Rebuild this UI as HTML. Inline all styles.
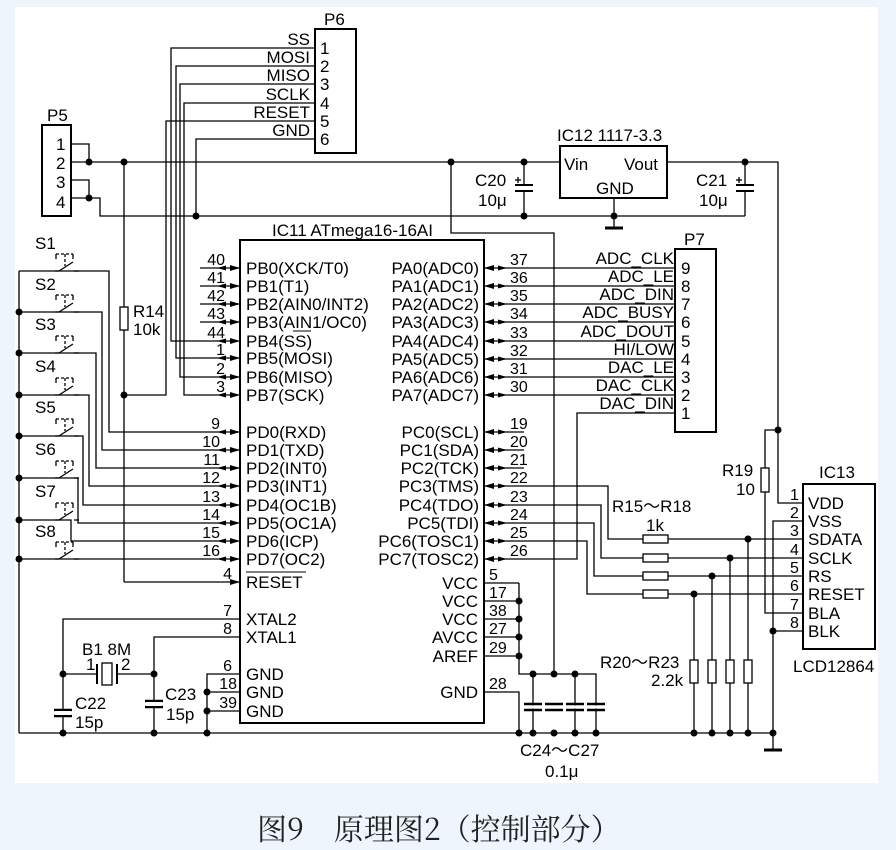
<!DOCTYPE html>
<html><head><meta charset="utf-8"><style>
html,body{margin:0;padding:0;background:#eef5fc;}
svg{display:block}
text{font-family:"Liberation Sans",sans-serif;fill:#000;}
</style></head><body>
<svg width="896" height="850" viewBox="0 0 896 850" xmlns="http://www.w3.org/2000/svg">
<defs>
<g id="da"><polygon points="-23,0 -14,-2.5 -14,2.5" fill="#000"/><polygon points="0,0 -10,-3 -10,3" fill="#000"/></g>
<g id="dt"><circle r="3.5" fill="#000"/></g>
<g id="swi" stroke="#000" fill="none" stroke-width="1.3">
<line x1="0" y1="0" x2="40" y2="0"/><line x1="40" y1="0" x2="54" y2="-9"/><line x1="55" y1="0" x2="60" y2="0"/>
<line x1="37" y1="-17" x2="54" y2="-17" stroke-dasharray="3,2"/><line x1="37" y1="-17" x2="37" y2="-12"/><line x1="54" y1="-17" x2="54" y2="-12"/><line x1="46" y1="-17" x2="46" y2="-5" stroke-dasharray="3,2"/>
</g>
</defs>
<rect x="15" y="7" width="863" height="776" fill="#fff"/>
<g stroke="#000" stroke-width="1.3" fill="none">
<rect x="315" y="29" width="41" height="124" stroke-width="2"/>
<polyline points="315,48 171,48 171,341 240,341"/>
<polyline points="315,66 176,66 176,358 240,358"/>
<polyline points="315,84 180,84 180,377 240,377"/>
<polyline points="315,103 184,103 184,395 240,395"/>
<polyline points="315,121 166,121 166,395 124,395"/>
<polyline points="315,139 196,139 196,216"/>
<rect x="42" y="125" width="29" height="91" stroke-width="2"/>
<polyline points="71,144 89,144 89,162"/>
<line x1="71" y1="162" x2="560" y2="162"/>
<polyline points="71,180 89,180 89,198"/>
<polyline points="71,198 100,198 100,216 745,216"/>
<polyline points="451,162 451,233 554,233 554,674"/>
<line x1="524" y1="162" x2="524" y2="185"/><line x1="515" y1="185" x2="533" y2="185" stroke-width="2"/><line x1="515" y1="191" x2="533" y2="191" stroke-width="2"/><line x1="524" y1="191" x2="524" y2="216"/>
<line x1="518" y1="177" x2="518" y2="183"/><line x1="515" y1="180" x2="521" y2="180"/>
<rect x="560" y="146" width="107" height="52" stroke-width="2"/>
<line x1="614" y1="198" x2="614" y2="228"/><line x1="605" y1="228" x2="623" y2="228" stroke-width="3"/>
<polyline points="667,162 778,162 778,503 803,503"/>
<line x1="745" y1="162" x2="745" y2="185"/><line x1="736" y1="185" x2="754" y2="185" stroke-width="2"/><line x1="736" y1="191" x2="754" y2="191" stroke-width="2"/><line x1="745" y1="191" x2="745" y2="216"/>
<line x1="739" y1="177" x2="739" y2="183"/><line x1="736" y1="180" x2="742" y2="180"/>
<polyline points="778,430 765,430 765,613 803,613"/>
<rect x="761" y="468" width="8" height="24" fill="#fff"/>
<line x1="124" y1="162" x2="124" y2="582"/><line x1="124" y1="582" x2="240" y2="582"/>
<rect x="120" y="307" width="8" height="23" fill="#fff"/>
<polyline points="19,733 19,271"/>
<polyline points="55,271 109,271 109,432 240,432"/>
<polyline points="55,312 102,312 102,450 240,450"/>
<polyline points="55,353 96,353 96,468 240,468"/>
<polyline points="55,395 89,395 89,486 240,486"/>
<polyline points="55,436 83,436 83,505 240,505"/>
<polyline points="55,478 78,478 78,523 240,523"/>
<polyline points="55,520 71,520 71,541 240,541"/>
<polyline points="55,559 240,559"/>
<rect x="240" y="240" width="244" height="483" stroke-width="2"/>
<line x1="200" y1="268" x2="240" y2="268"/><line x1="200" y1="286" x2="240" y2="286"/><line x1="200" y1="304" x2="240" y2="304"/><line x1="200" y1="322" x2="240" y2="322"/>
<polyline points="240,619 63,619 63,733"/>
<polyline points="240,637 154,637 154,733"/>
<line x1="63" y1="674" x2="97" y2="674"/><line x1="117" y1="674" x2="154" y2="674"/>
<line x1="97" y1="664" x2="97" y2="684" stroke-width="2"/><line x1="117" y1="664" x2="117" y2="684" stroke-width="2"/>
<rect x="102" y="663" width="10" height="22"/>
<line x1="54" y1="710" x2="72" y2="710" stroke-width="2.5"/><line x1="54" y1="716" x2="72" y2="716" stroke-width="2.5"/>
<rect x="55" y="711" width="16" height="4" fill="#fff" stroke="none"/>
<line x1="145" y1="701" x2="163" y2="701" stroke-width="2.5"/><line x1="145" y1="707" x2="163" y2="707" stroke-width="2.5"/>
<rect x="146" y="702" width="16" height="4" fill="#fff" stroke="none"/>
<polyline points="240,674 207,674 207,733"/><line x1="207" y1="692" x2="240" y2="692"/><line x1="207" y1="711" x2="240" y2="711"/>
<line x1="19" y1="733" x2="773" y2="733"/>
<line x1="484" y1="268" x2="675" y2="268"/><line x1="484" y1="286" x2="675" y2="286"/><line x1="484" y1="304" x2="675" y2="304"/><line x1="484" y1="322" x2="675" y2="322"/><line x1="484" y1="341" x2="675" y2="341"/><line x1="484" y1="359" x2="675" y2="359"/><line x1="484" y1="377" x2="675" y2="377"/><line x1="484" y1="395" x2="675" y2="395"/>
<polyline points="675,413 577,413 577,559 484,559"/>
<rect x="675" y="249" width="41" height="183" stroke-width="2"/>
<line x1="484" y1="432" x2="524" y2="432"/><line x1="484" y1="450" x2="524" y2="450"/><line x1="484" y1="468" x2="524" y2="468"/>
<polyline points="484,486 608,486 608,539 803,539"/>
<polyline points="484,505 601,505 601,558 803,558"/>
<polyline points="484,523 594,523 594,576 803,576"/>
<polyline points="484,541 587,541 587,594 803,594"/>
<rect x="643" y="535" width="25" height="8" fill="#fff"/><rect x="643" y="554" width="25" height="8" fill="#fff"/><rect x="643" y="572" width="25" height="8" fill="#fff"/><rect x="643" y="590" width="25" height="8" fill="#fff"/>
<line x1="748" y1="539" x2="748" y2="733"/><line x1="730" y1="558" x2="730" y2="733"/><line x1="712" y1="576" x2="712" y2="733"/><line x1="694" y1="594" x2="694" y2="733"/>
<rect x="690" y="660" width="8" height="23" fill="#fff"/><rect x="708" y="660" width="8" height="23" fill="#fff"/><rect x="726" y="660" width="8" height="23" fill="#fff"/><rect x="744" y="660" width="8" height="23" fill="#fff"/>
<rect x="803" y="484" width="72" height="165" stroke-width="2"/>
<polyline points="803,521 773,521 773,750"/><line x1="764" y1="750" x2="782" y2="750" stroke-width="3"/>
<line x1="773" y1="631" x2="803" y2="631"/>
<line x1="484" y1="583" x2="519" y2="583"/><line x1="484" y1="601" x2="519" y2="601"/><line x1="484" y1="619" x2="519" y2="619"/><line x1="484" y1="637" x2="519" y2="637"/><line x1="484" y1="656" x2="519" y2="656"/>
<polyline points="519,583 519,674 596,674 596,733"/>
<polyline points="484,692 519,692 519,733"/>
<line x1="533" y1="674" x2="533" y2="733"/><line x1="575" y1="674" x2="575" y2="733"/>
</g>
<g stroke="#000" stroke-width="2.5">
<line x1="524" y1="704" x2="542" y2="704"/><line x1="524" y1="710" x2="542" y2="710"/>
<line x1="545" y1="704" x2="563" y2="704"/><line x1="545" y1="710" x2="563" y2="710"/>
<line x1="566" y1="704" x2="584" y2="704"/><line x1="566" y1="710" x2="584" y2="710"/>
<line x1="587" y1="704" x2="605" y2="704"/><line x1="587" y1="710" x2="605" y2="710"/>
</g>
<g fill="#fff"><rect x="525" y="705.5" width="16" height="3"/><rect x="546" y="705.5" width="16" height="3"/><rect x="567" y="705.5" width="16" height="3"/><rect x="588" y="705.5" width="16" height="3"/></g>
<use href="#swi" x="19" y="271"/><use href="#swi" x="19" y="312"/><use href="#swi" x="19" y="353"/><use href="#swi" x="19" y="395"/><use href="#swi" x="19" y="436"/><use href="#swi" x="19" y="478"/><use href="#swi" x="19" y="520"/><use href="#swi" x="19" y="559"/>
<g>
<use href="#da" x="240" y="268"/><use href="#da" x="240" y="286"/><use href="#da" x="240" y="304"/><use href="#da" x="240" y="322"/><use href="#da" x="240" y="341"/><use href="#da" x="240" y="358"/><use href="#da" x="240" y="377"/><use href="#da" x="240" y="395"/>
<use href="#da" x="240" y="432"/><use href="#da" x="240" y="450"/><use href="#da" x="240" y="468"/><use href="#da" x="240" y="486"/><use href="#da" x="240" y="505"/><use href="#da" x="240" y="523"/><use href="#da" x="240" y="541"/><use href="#da" x="240" y="559"/>
<polygon points="240,582 230,579 230,585" fill="#000"/>
</g>
<g transform="translate(968,0) scale(-1,1)">
<use href="#da" x="484" y="268"/><use href="#da" x="484" y="286"/><use href="#da" x="484" y="304"/><use href="#da" x="484" y="322"/><use href="#da" x="484" y="341"/><use href="#da" x="484" y="359"/><use href="#da" x="484" y="377"/><use href="#da" x="484" y="395"/>
<use href="#da" x="484" y="432"/><use href="#da" x="484" y="450"/><use href="#da" x="484" y="468"/><use href="#da" x="484" y="486"/><use href="#da" x="484" y="505"/><use href="#da" x="484" y="523"/><use href="#da" x="484" y="541"/><use href="#da" x="484" y="559"/>
</g>
<g>
<use href="#dt" x="89" y="162"/><use href="#dt" x="124" y="162"/><use href="#dt" x="89" y="198"/><use href="#dt" x="196" y="216"/><use href="#dt" x="124" y="395"/>
<use href="#dt" x="451" y="162"/><use href="#dt" x="524" y="162"/><use href="#dt" x="524" y="216"/><use href="#dt" x="614" y="216"/><use href="#dt" x="745" y="162"/><use href="#dt" x="778" y="430"/>
<use href="#dt" x="19" y="312"/><use href="#dt" x="19" y="353"/><use href="#dt" x="19" y="395"/><use href="#dt" x="19" y="436"/><use href="#dt" x="19" y="478"/><use href="#dt" x="19" y="520"/><use href="#dt" x="19" y="559"/>
<use href="#dt" x="63" y="674"/><use href="#dt" x="154" y="674"/><use href="#dt" x="63" y="733"/><use href="#dt" x="154" y="733"/><use href="#dt" x="207" y="692"/><use href="#dt" x="207" y="711"/><use href="#dt" x="207" y="733"/>
<use href="#dt" x="519" y="601"/><use href="#dt" x="519" y="619"/><use href="#dt" x="519" y="637"/><use href="#dt" x="519" y="656"/>
<use href="#dt" x="533" y="674"/><use href="#dt" x="554" y="674"/><use href="#dt" x="575" y="674"/>
<use href="#dt" x="519" y="733"/><use href="#dt" x="533" y="733"/><use href="#dt" x="554" y="733"/><use href="#dt" x="575" y="733"/><use href="#dt" x="596" y="733"/>
<use href="#dt" x="694" y="733"/><use href="#dt" x="712" y="733"/><use href="#dt" x="730" y="733"/><use href="#dt" x="748" y="733"/><use href="#dt" x="773" y="733"/>
<use href="#dt" x="748" y="539"/><use href="#dt" x="730" y="558"/><use href="#dt" x="712" y="576"/><use href="#dt" x="694" y="594"/><use href="#dt" x="773" y="631"/>
</g>
<g font-size="17">
<text x="324" y="25">P6</text>
<g text-anchor="end"><text x="310" y="45">SS</text><text x="310" y="63">MOSI</text><text x="310" y="81">MISO</text><text x="310" y="100">SCLK</text><text x="310" y="118">RESET</text><text x="310" y="136">GND</text></g>
<text x="320" y="54">1</text><text x="320" y="72">2</text><text x="320" y="90">3</text><text x="320" y="109">4</text><text x="320" y="127">5</text><text x="320" y="145">6</text>
<text x="47" y="121">P5</text>
<text x="56" y="150">1</text><text x="56" y="169">2</text><text x="56" y="188">3</text><text x="56" y="208">4</text>
<text x="133" y="317">R14</text><text x="133" y="335">10k</text>
<text x="35" y="249">S1</text><text x="35" y="290">S2</text><text x="35" y="330">S3</text><text x="35" y="372">S4</text><text x="35" y="413">S5</text><text x="35" y="455">S6</text><text x="35" y="497">S7</text><text x="35" y="537">S8</text>
<text x="272" y="236">IC11 ATmega16-16AI</text>
<g><text x="246" y="274">PB0(XCK/T0)</text><text x="246" y="292">PB1(T1)</text><text x="246" y="310">PB2(AIN0/INT2)</text><text x="246" y="328">PB3(AIN1/OC0)</text><text x="246" y="347">PB4(SS)</text><text x="246" y="364">PB5(MOSI)</text><text x="246" y="383">PB6(MISO)</text><text x="246" y="401">PB7(SCK)</text>
<text x="246" y="438">PD0(RXD)</text><text x="246" y="456">PD1(TXD)</text><text x="246" y="474">PD2(INT0)</text><text x="246" y="492">PD3(INT1)</text><text x="246" y="511">PD4(OC1B)</text><text x="246" y="529">PD5(OC1A)</text><text x="246" y="547">PD6(ICP)</text><text x="246" y="565">PD7(OC2)</text>
<text x="246" y="588">RESET</text><text x="246" y="625">XTAL2</text><text x="246" y="643">XTAL1</text><text x="246" y="680">GND</text><text x="246" y="698">GND</text><text x="246" y="717">GND</text></g>
<line x1="293" y1="331" x2="311" y2="331" stroke="#000"/><line x1="246" y1="572" x2="306" y2="572" stroke="#000"/>
<g text-anchor="end"><text x="479" y="274">PA0(ADC0)</text><text x="479" y="292">PA1(ADC1)</text><text x="479" y="310">PA2(ADC2)</text><text x="479" y="328">PA3(ADC3)</text><text x="479" y="347">PA4(ADC4)</text><text x="479" y="365">PA5(ADC5)</text><text x="479" y="383">PA6(ADC6)</text><text x="479" y="401">PA7(ADC7)</text>
<text x="479" y="438">PC0(SCL)</text><text x="479" y="456">PC1(SDA)</text><text x="479" y="474">PC2(TCK)</text><text x="479" y="492">PC3(TMS)</text><text x="479" y="511">PC4(TDO)</text><text x="479" y="529">PC5(TDI)</text><text x="479" y="547">PC6(TOSC1)</text><text x="479" y="565">PC7(TOSC2)</text>
<text x="478" y="589">VCC</text><text x="478" y="607">VCC</text><text x="478" y="625">VCC</text><text x="478" y="643">AVCC</text><text x="478" y="662">AREF</text><text x="478" y="698">GND</text>
<text x="674" y="264">ADC_CLK</text><text x="674" y="282">ADC_LE</text><text x="674" y="300">ADC_DIN</text><text x="674" y="318">ADC_BUSY</text><text x="674" y="337">ADC_DOUT</text><text x="674" y="355">HI/LOW</text><text x="674" y="373">DAC_LE</text><text x="674" y="391">DAC_CLK</text><text x="674" y="409">DAC_DIN</text></g>
<text x="684" y="245">P7</text>
<text x="681" y="274">9</text><text x="681" y="292">8</text><text x="681" y="310">7</text><text x="681" y="328">6</text><text x="681" y="347">5</text><text x="681" y="365">4</text><text x="681" y="383">3</text><text x="681" y="401">2</text><text x="681" y="419">1</text>
<text x="557" y="141">IC12 1117-3.3</text><text x="564" y="170">Vin</text><text x="624" y="170">Vout</text><text x="596" y="194">GND</text>
<text x="475" y="186">C20</text><text x="478" y="206">10μ</text><text x="696" y="186">C21</text><text x="699" y="206">10μ</text>
<text x="82" y="655">B1 8M</text><text x="86" y="670">1</text><text x="121" y="670">2</text>
<text x="75" y="709">C22</text><text x="75" y="728">15p</text><text x="165" y="700">C23</text><text x="166" y="720">15p</text>
<text x="612" y="512">R15～R18</text><text x="646" y="531">1k</text>
<text x="600" y="668">R20～R23</text><text x="651" y="686">2.2k</text>
<text x="722" y="476">R19</text><text x="736" y="495">10</text>
<text x="819" y="478">IC13</text><text x="793" y="672">LCD12864</text>
<g><text x="808" y="509">VDD</text><text x="808" y="527">VSS</text><text x="808" y="545">SDATA</text><text x="808" y="564">SCLK</text><text x="808" y="582">RS</text><text x="808" y="600">RESET</text><text x="808" y="619">BLA</text><text x="808" y="637">BLK</text></g>
<text x="520" y="756">C24～C27</text><text x="545" y="777">0.1μ</text>
</g>
<g font-size="16" text-anchor="end">
<text x="225" y="265">40</text><text x="225" y="283">41</text><text x="225" y="301">42</text><text x="225" y="319">43</text><text x="225" y="338">44</text><text x="225" y="355">1</text><text x="225" y="374">2</text><text x="225" y="392">3</text>
<text x="220" y="429">9</text><text x="220" y="447">10</text><text x="220" y="465">11</text><text x="220" y="483">12</text><text x="220" y="502">13</text><text x="220" y="520">14</text><text x="220" y="538">15</text><text x="220" y="556">16</text>
<text x="232" y="579">4</text><text x="232" y="616">7</text><text x="232" y="634">8</text><text x="232" y="671">6</text><text x="237" y="689">18</text><text x="237" y="708">39</text>
</g>
<g font-size="16">
<text x="510" y="265">37</text><text x="510" y="283">36</text><text x="510" y="301">35</text><text x="510" y="319">34</text><text x="510" y="338">33</text><text x="510" y="356">32</text><text x="510" y="374">31</text><text x="510" y="392">30</text>
<text x="510" y="429">19</text><text x="510" y="447">20</text><text x="510" y="465">21</text><text x="510" y="483">22</text><text x="510" y="502">23</text><text x="510" y="520">24</text><text x="510" y="538">25</text><text x="510" y="556">26</text>
<text x="489" y="580">5</text><text x="489" y="598">17</text><text x="489" y="616">38</text><text x="489" y="634">27</text><text x="489" y="653">29</text><text x="489" y="689">28</text>
<text x="790" y="500">1</text><text x="790" y="518">2</text><text x="790" y="536">3</text><text x="790" y="555">4</text><text x="790" y="573">5</text><text x="790" y="591">6</text><text x="790" y="610">7</text><text x="790" y="628">8</text>
</g>
<text x="257" y="840" font-size="30" style="font-family:'Noto Serif CJK SC','Liberation Serif',serif;fill:#222">图9　原理图2（控制部分）</text>
</svg>
</body></html>
